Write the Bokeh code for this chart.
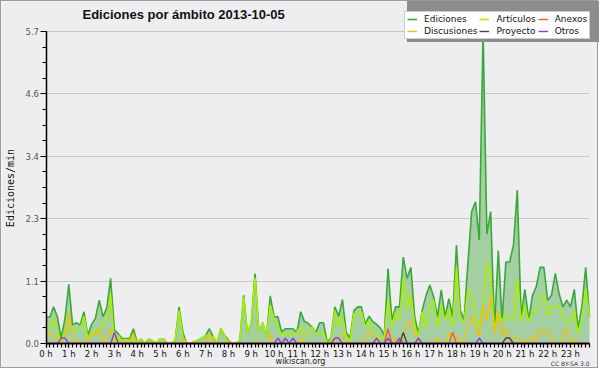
import numpy as np
from bokeh.plotting import figure
from bokeh.models import Range1d, FixedTicker, Legend, LegendItem, Label
from bokeh.embed import file_html
from bokeh.resources import INLINE

# ---- data: edits per minute, one value per 10-minute slot (144 slots) ----
hour_labels = [f"{h} h" for h in range(24)]
y_tick_values = [0.0, 1.14, 2.28, 3.42, 4.56, 5.7]
y_tick_labels = ["0.0", "1.1", "2.3", "3.4", "4.6", "5.7"]

ediciones = [
    0.48, 0.48, 0.67, 0.49, 0.10, 0.46, 1.08, 0.34, 0.38, 0.34, 0.58, 0.15,
    0.35, 0.46, 0.79, 0.49, 0.65, 1.19, 0.25, 0.18, 0.09, 0.09, 0.09, 0.27,
    0.02, 0.08, 0.00, 0.08, 0.05, 0.00, 0.08, 0.08, 0.00, 0.00, 0.06, 0.67,
    0.21, 0.00, 0.00, 0.03, 0.06, 0.10, 0.15, 0.27, 0.12, 0.00, 0.27, 0.15,
    0.06, 0.00, 0.00, 0.06, 0.88, 0.18, 0.37, 1.28, 0.21, 0.38, 0.12, 0.87,
    0.49, 0.49, 0.21, 0.27, 0.27, 0.27, 0.20, 0.58, 0.40, 0.37, 0.30, 0.20,
    0.38, 0.38, 0.02, 0.10, 0.67, 0.50, 0.80, 0.20, 0.10, 0.60, 0.67, 0.67,
    0.35, 0.50, 0.40, 0.35, 0.28, 0.15, 1.37, 0.43, 0.67, 0.67, 1.58, 1.19,
    1.39, 0.49, 0.18, 0.61, 0.88, 1.07, 0.85, 0.49, 0.98, 0.49, 0.82, 0.49,
    1.80, 0.61, 0.43, 1.46, 2.41, 2.59, 1.89, 5.70, 2.00, 2.41, 0.27, 1.70,
    0.43, 1.49, 1.49, 1.80, 2.80, 0.49, 0.99, 0.43, 0.88, 1.04, 1.39, 1.39,
    0.79, 0.88, 1.28, 0.91, 0.67, 0.79, 0.67, 0.99, 0.27, 0.67, 1.39, 0.49,
]

articulos = [
    0.27, 0.27, 0.47, 0.20, 0.00, 0.27, 0.45, 0.20, 0.25, 0.25, 0.50, 0.10,
    0.20, 0.25, 0.25, 0.35, 0.45, 0.90, 0.00, 0.15, 0.05, 0.08, 0.05, 0.10,
    0.02, 0.08, 0.00, 0.08, 0.05, 0.00, 0.08, 0.08, 0.00, 0.00, 0.06, 0.60,
    0.12, 0.00, 0.00, 0.03, 0.06, 0.10, 0.15, 0.10, 0.12, 0.00, 0.27, 0.15,
    0.00, 0.00, 0.00, 0.06, 0.85, 0.18, 0.37, 1.20, 0.21, 0.38, 0.12, 0.70,
    0.45, 0.30, 0.15, 0.15, 0.18, 0.15, 0.20, 0.30, 0.12, 0.20, 0.30, 0.18,
    0.18, 0.18, 0.00, 0.06, 0.60, 0.30, 0.50, 0.12, 0.03, 0.55, 0.50, 0.58,
    0.30, 0.43, 0.24, 0.18, 0.06, 0.12, 0.80, 0.30, 0.58, 0.43, 1.19, 0.61,
    0.91, 0.30, 0.15, 0.58, 0.30, 0.70, 0.79, 0.30, 0.67, 0.43, 0.64, 0.30,
    1.40, 0.43, 0.40, 0.98, 0.88, 0.43, 0.30, 0.70, 1.49, 1.16, 0.27, 0.58,
    0.40, 0.55, 0.43, 0.43, 1.19, 0.40, 0.70, 0.40, 0.58, 0.58, 0.82, 0.88,
    0.49, 0.67, 0.67, 0.67, 0.49, 0.40, 0.40, 0.58, 0.18, 0.49, 1.00, 0.49,
]

discusiones = [
    0.10, 0.18, 0.12, 0.10, 0.00, 0.12, 0.57, 0.06, 0.06, 0.00, 0.03, 0.06,
    0.15, 0.15, 0.27, 0.00, 0.06, 0.27, 0.05, 0.00, 0.06, 0.00, 0.06, 0.18,
    0.00, 0.00, 0.00, 0.00, 0.00, 0.00, 0.00, 0.00, 0.00, 0.00, 0.00, 0.00,
    0.09, 0.00, 0.00, 0.00, 0.00, 0.00, 0.00, 0.18, 0.00, 0.00, 0.00, 0.00,
    0.06, 0.00, 0.00, 0.00, 0.00, 0.00, 0.00, 0.06, 0.00, 0.00, 0.00, 0.18,
    0.00, 0.00, 0.00, 0.10, 0.00, 0.00, 0.00, 0.10, 0.00, 0.00, 0.00, 0.00,
    0.00, 0.00, 0.00, 0.00, 0.06, 0.10, 0.18, 0.00, 0.00, 0.00, 0.00, 0.00,
    0.10, 0.24, 0.10, 0.10, 0.00, 0.00, 0.10, 0.00, 0.10, 0.00, 0.10, 0.40,
    0.40, 0.20, 0.05, 0.00, 0.00, 0.00, 0.00, 0.10, 0.00, 0.00, 0.18, 0.18,
    0.10, 0.00, 0.10, 0.30, 0.49, 0.30, 0.12, 0.70, 0.40, 0.88, 0.18, 0.58,
    0.12, 0.30, 0.10, 0.10, 0.10, 0.00, 0.06, 0.00, 0.15, 0.06, 0.27, 0.18,
    0.24, 0.12, 0.00, 0.00, 0.15, 0.30, 0.00, 0.09, 0.00, 0.00, 0.00, 0.00,
]

# sparse series: {slot index: edits/min}
anexos_slots = {90: 0.27, 107: 0.20}
proyecto_slots = {94: 0.20, 121: 0.10, 122: 0.10}
otros_slots = {4: 0.10, 5: 0.10, 18: 0.20, 61: 0.10, 63: 0.10, 65: 0.10,
               76: 0.10, 77: 0.10, 87: 0.10, 90: 0.10, 93: 0.10, 98: 0.10,
               114: 0.10}

n = len(ediciones)
times = np.arange(n) / 6.0  # hours


def expand(slots):
    arr = np.zeros(n)
    for k, v in slots.items():
        arr[k] = v
    return arr


anexos = expand(anexos_slots)
proyecto = expand(proyecto_slots)
otros = expand(otros_slots)

BG = "#eeeef0"
FONT = "DejaVu Sans"

# ---- layout: the frame fills the whole canvas; axes sit at fixed locations ----
W, H = 598, 368
plot_left, plot_right = 44.5, 588.0     # canvas px of x = 0 h and of the last slot
plot_top, plot_bottom = 30.0, 342.0     # canvas px of y = top tick and y = 0
y_max = y_tick_values[-1]
x_last = times[-1]
sx = (plot_right - plot_left) / x_last
sy = (plot_bottom - plot_top) / y_max
x_range = Range1d(-plot_left / sx, (W - plot_left) / sx)
y_range = Range1d(-(H - plot_bottom) / sy, y_max + plot_top / sy)

p = figure(width=W, height=H, output_backend="svg", toolbar_location=None,
           title=None, x_range=x_range, y_range=y_range, min_border=0)
p.background_fill_color = BG
p.border_fill_color = BG
p.outline_line_color = None
p.styles = {"border": "1px solid #9c9c9c"}

# axes
p.xaxis.fixed_location = 0
p.xaxis.bounds = (0, x_last)
p.xaxis.ticker = FixedTicker(ticks=list(range(24)), minor_ticks=list(times))
p.xaxis.major_label_overrides = {h: lab for h, lab in enumerate(hour_labels)}
p.xaxis.major_label_text_font = FONT
p.xaxis.major_label_text_font_size = "8.5px"
p.xaxis.major_label_text_color = "#111111"
p.xaxis.major_label_standoff = 1
p.xaxis.major_tick_in = 0
p.xaxis.major_tick_out = 4
p.xaxis.minor_tick_in = 0
p.xaxis.minor_tick_out = 4
p.xaxis.axis_line_width = 1.5
p.xaxis.major_tick_line_width = 1.2
p.xaxis.minor_tick_line_width = 1.2

minor_y = [k * y_max / 20 for k in range(21)]
p.yaxis.fixed_location = 0
p.yaxis.bounds = (0, y_max)
p.yaxis.ticker = FixedTicker(ticks=y_tick_values, minor_ticks=minor_y)
p.yaxis.major_label_overrides = {v: t for v, t in zip(y_tick_values, y_tick_labels)}
p.yaxis.major_label_text_font = FONT
p.yaxis.major_label_text_font_size = "8.5px"
p.yaxis.major_label_text_color = "#555555"
p.yaxis.major_label_standoff = 1
p.yaxis.major_tick_in = 0
p.yaxis.major_tick_out = 6
p.yaxis.minor_tick_in = 0
p.yaxis.minor_tick_out = 4
p.yaxis.axis_line_width = 1.5

p.xgrid.grid_line_color = None
p.ygrid.grid_line_color = "#c8c8c8"
p.ygrid.grid_line_width = 1.2
p.ygrid.cross_bounds = (0, x_last)

# series
p.varea(x=times, y1=np.zeros(n), y2=ediciones, fill_color="#a3cfa3", fill_alpha=1)
r_ed = p.line(times, ediciones, line_color="#3aa83a", line_width=1.6)
r_ar = p.line(times, articulos, line_color="#aaee00", line_width=1.6)
r_di = p.line(times, discusiones, line_color="#f2c200", line_width=1.4)
r_an = p.line(times, anexos, line_color="#ff5a1e", line_width=1.4)
r_pr = p.line(times, proyecto, line_color="#444444", line_width=1.4)
r_ot = p.line(times, otros, line_color="#8a3cf0", line_width=1.4)

# texts (screen units: px from the canvas bottom-left)
p.add_layout(Label(x=81, y=H - 13, x_units="screen", y_units="screen",
                   text="Ediciones por ámbito  2013-10-05",
                   text_font="Liberation Sans", text_font_size="13px",
                   text_font_style="bold", text_color="#111111",
                   text_align="left", text_baseline="middle"))
p.add_layout(Label(x=9, y=H - 186.5, x_units="screen", y_units="screen",
                   text="Ediciones/min", text_font="DejaVu Sans Mono",
                   text_font_size="10px", text_color="#111111", angle=np.pi / 2,
                   text_align="center", text_baseline="middle"))
p.add_layout(Label(x=299, y=H - 360, x_units="screen", y_units="screen",
                   text="wikiscan.org", text_font=FONT, text_font_size="8px",
                   text_color="#222222", text_align="center",
                   text_baseline="middle"))
p.add_layout(Label(x=588, y=H - 361.5, x_units="screen", y_units="screen",
                   text="CC BY-SA 3.0", text_font=FONT, text_font_size="6px",
                   text_color="#333333", text_align="right",
                   text_baseline="middle"))

# legend shadow
shadow = Legend(items=[LegendItem(label=" ", renderers=[r_ed])],
                location=(406, H - 41), glyph_width=0, glyph_height=0,
                label_standoff=0, padding=0, margin=0, label_width=187,
                label_height=28, border_line_color=None,
                background_fill_color="#8c8c8c", background_fill_alpha=1)
p.add_layout(shadow)

legend = Legend(items=[
    LegendItem(label="Ediciones", renderers=[r_ed]),
    LegendItem(label="Discusiones", renderers=[r_di]),
    LegendItem(label="Artículos", renderers=[r_ar]),
    LegendItem(label="Proyecto", renderers=[r_pr]),
    LegendItem(label="Anexos", renderers=[r_an]),
    LegendItem(label="Otros", renderers=[r_ot]),
], ncols=3, location=(403, H - 38))
legend.label_text_font = FONT
legend.label_text_font_size = "9px"
legend.label_text_color = "#111111"
legend.label_height = 10
legend.glyph_height = 10
legend.glyph_width = 10
legend.label_standoff = 7
legend.spacing = 2
legend.padding = 2
legend.margin = 0
legend.border_line_color = "#9a9a9a"
legend.background_fill_color = "white"
legend.background_fill_alpha = 1
p.add_layout(legend)

open("out.html", "w").write(file_html(p, INLINE))
